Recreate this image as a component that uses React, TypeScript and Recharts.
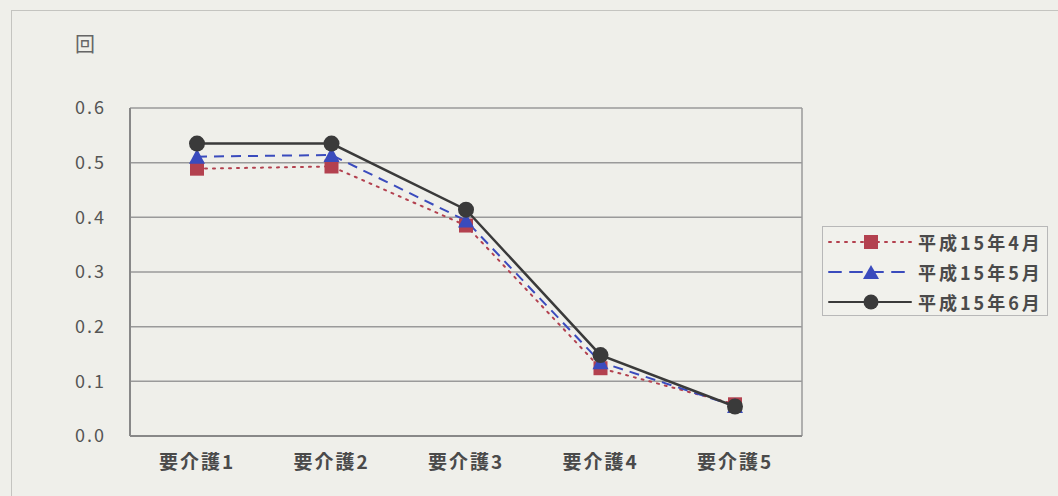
import React from 'react'
import { LineChart, Line, XAxis, YAxis, CartesianGrid } from 'recharts'

const categories = ['要介護1', '要介護2', '要介護3', '要介護4', '要介護5']
const april = [0.489, 0.493, 0.385, 0.124, 0.058]
const may = [0.511, 0.514, 0.394, 0.135, 0.055]
const june = [0.535, 0.535, 0.414, 0.148, 0.054]
const yTicks = [0, 0.1, 0.2, 0.3, 0.4, 0.5, 0.6]

const seriesNames = ['平成15年4月', '平成15年5月', '平成15年6月']

const data = categories.map((c, i) => ({
  name: c,
  apr: april[i],
  may: may[i],
  jun: june[i],
}))

const RED = '#b3414f'
const BLUE = '#3a4bbd'
const DARK = '#3a3a3a'
const FONT = '"Noto Sans CJK JP", "Noto Sans", sans-serif'

const SquareDot = (props: any) => {
  const { cx, cy } = props
  if (cx == null || cy == null) return null
  return <rect key={`s-${cx}`} x={cx - 7} y={cy - 7} width={14} height={14} fill={RED} />
}

const TriangleDot = (props: any) => {
  const { cx, cy } = props
  if (cx == null || cy == null) return null
  return (
    <polygon
      key={`t-${cx}`}
      points={`${cx},${cy - 8} ${cx + 8},${cy + 7} ${cx - 8},${cy + 7}`}
      fill={BLUE}
    />
  )
}

const CircleDot = (props: any) => {
  const { cx, cy } = props
  if (cx == null || cy == null) return null
  return <circle key={`c-${cx}`} cx={cx} cy={cy} r={8} fill={DARK} />
}

function LegendBox() {
  const rows = [
    { color: RED, dash: '2 6', marker: 'square' },
    { color: BLUE, dash: '12 9', marker: 'triangle' },
    { color: DARK, dash: undefined, marker: 'circle' },
  ]
  return (
    <div
      style={{
        position: 'absolute',
        left: 822,
        top: 226,
        width: 226,
        height: 90,
        boxSizing: 'border-box',
        border: '1px solid #b8b8b8',
        background: '#f1f1ec',
        padding: '0 0 0 4px',
        fontFamily: FONT,
        fontSize: 18,
        color: '#4a4a4a',
      }}
    >
      {rows.map((r, i) => (
        <div key={i} style={{ display: 'flex', alignItems: 'center', height: 30 }}>
          <svg width={86} height={20}>
            <line x1={2} y1={10} x2={84} y2={10} stroke={r.color} strokeWidth={2} strokeDasharray={r.dash} strokeLinecap="round" />
            {r.marker === 'square' && <rect x={37} y={3} width={14} height={14} fill={r.color} />}
            {r.marker === 'triangle' && <polygon points="44,3 52,17 36,17" fill={r.color} />}
            {r.marker === 'circle' && <circle cx={44} cy={10} r={7.5} fill={r.color} />}
          </svg>
          <span style={{ marginLeft: 5, fontWeight: 700, letterSpacing: 3 }}>{seriesNames[i]}</span>
        </div>
      ))}
    </div>
  )
}

export default function App() {
  return (
    <div
      style={{
        position: 'absolute',
        left: 0,
        top: 0,
        width: 1058,
        height: 496,
        background: '#efefea',
        overflow: 'hidden',
      }}
    >
      <div
        style={{
          position: 'absolute',
          left: 11,
          top: 10,
          width: 1100,
          height: 600,
          borderLeft: '1px solid #c4c4c0',
          borderTop: '1px solid #c4c4c0',
        }}
      />
      <div
        style={{
          position: 'absolute',
          left: 75,
          top: 29,
          fontFamily: FONT,
          fontSize: 20,
          color: '#666',
        }}
      >
        回
      </div>
      <div style={{ position: 'absolute', left: 0, top: 0 }}>
        <LineChart
          width={1058}
          height={496}
          data={data}
          margin={{ top: 108, right: 256, bottom: 30, left: 0 }}
        >
          <CartesianGrid
            stroke="#9a9a9a"
            strokeWidth={1.5}
            verticalCoordinatesGenerator={({ offset }: any) => [offset.left, offset.left + offset.width]}
          />
          <XAxis
            dataKey="name"
            height={30}
            padding={{ left: 67, right: 67 }}
            axisLine={{ stroke: '#888', strokeWidth: 2 }}
            tickLine={false}
            tickSize={0}
            tickMargin={20}
            tick={{ fill: '#4a4a4a', fontSize: 19, fontWeight: 700, fontFamily: FONT, letterSpacing: 2 }}
          />
          <YAxis
            width={130}
            domain={[0, 0.6]}
            ticks={yTicks}
            tickFormatter={(v: number) => v.toFixed(1)}
            axisLine={{ stroke: '#888', strokeWidth: 2 }}
            tickLine={false}
            tickSize={0}
            tickMargin={24}
            tick={{ fill: '#555', fontSize: 18, fontFamily: FONT, letterSpacing: 2 }}
            interval={0}
          />
          <Line
            type="linear"
            dataKey="apr"
            name={seriesNames[0]}
            stroke={RED}
            strokeWidth={2}
            strokeDasharray="2 6"
            strokeLinecap="round"
            dot={SquareDot}
            isAnimationActive={false}
          />
          <Line
            type="linear"
            dataKey="may"
            name={seriesNames[1]}
            stroke={BLUE}
            strokeWidth={2}
            strokeDasharray="10 7"
            dot={TriangleDot}
            isAnimationActive={false}
          />
          <Line
            type="linear"
            dataKey="jun"
            name={seriesNames[2]}
            stroke={DARK}
            strokeWidth={2.5}
            dot={CircleDot}
            isAnimationActive={false}
          />
        </LineChart>
      </div>
      <LegendBox />
    </div>
  )
}
